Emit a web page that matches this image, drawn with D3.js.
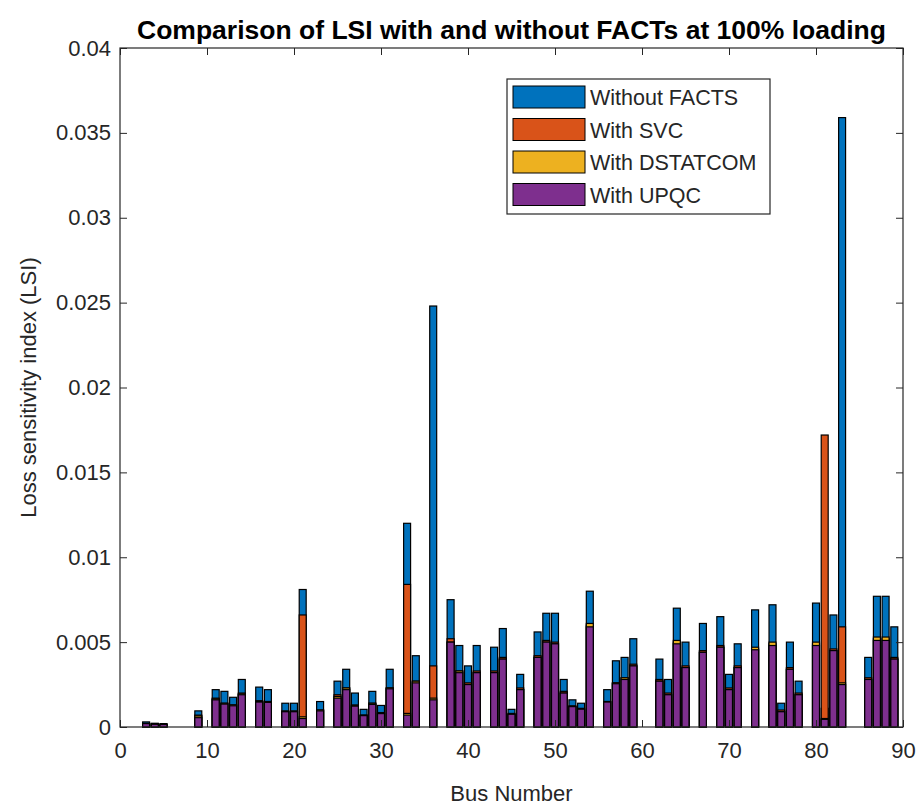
<!DOCTYPE html>
<html>
<head>
<meta charset="utf-8">
<script src="https://cdn.jsdelivr.net/npm/d3@7"></script>
<style>
  body { margin: 0; background: #fff; }
  text { font-family: "Liberation Sans", Arial, sans-serif; fill: #262626; }
</style>
</head>
<body>
<svg id="chart" width="919" height="805"></svg>
<script>
// bus numbers that carry a bar
const buses = [3,4,5,9,11,12,13,14,16,17,19,20,21,23,25,26,27,28,29,30,31,33,34,36,
  38,39,40,41,43,44,45,46,48,49,50,51,52,53,54,56,57,58,59,62,63,64,65,67,69,70,71,
  73,75,76,77,78,80,81,82,83,86,87,88,89];

const withoutFacts = [0.0003,0.00022,0.0002,0.00095,0.0022,0.0021,0.00175,0.0028,0.00235,0.0022,
  0.0014,0.0014,0.0081,0.0015,0.0027,0.0034,0.002,0.00104,0.0021,0.00127,0.0034,0.012,0.0042,0.0248,
  0.0075,0.0048,0.0036,0.0048,0.0047,0.0058,0.00104,0.0031,0.0056,0.0067,0.0067,0.0028,0.0016,0.0014,0.008,
  0.0022,0.0039,0.0041,0.0052,0.004,0.0028,0.007,0.005,0.0061,0.0065,0.0031,0.0049,
  0.0069,0.0072,0.0014,0.005,0.0027,0.0073,0.0011,0.0066,0.0359,0.0041,0.0077,0.0077,0.0059];

const withSVC = [0.00022,0.00018,0.00016,0.0007,0.0017,0.0014,0.0013,0.002,0.00155,0.0015,
  0.00095,0.00095,0.0066,0.001,0.0019,0.0023,0.0013,0.0007,0.0014,0.00085,0.0023,0.0084,0.0027,0.0036,
  0.0052,0.0033,0.0026,0.0033,0.0033,0.0041,0.0008,0.0023,0.0042,0.0051,0.005,0.0021,0.00125,0.0011,0.006,
  0.0015,0.0026,0.0029,0.0037,0.0028,0.002,0.005,0.0036,0.0045,0.0048,0.0023,0.0036,
  0.0046,0.0049,0.001,0.0035,0.002,0.0049,0.0172,0.0046,0.0059,0.0029,0.0052,0.0052,0.0041];

const withDSTATCOM = [0.0002,0.00017,0.00015,0.00065,0.00165,0.0014,0.0013,0.00195,0.0015,0.0015,
  0.0009,0.0009,0.0006,0.001,0.0018,0.0023,0.00125,0.0007,0.0014,0.0008,0.0023,0.0008,0.0027,0.0017,
  0.005,0.0033,0.0025,0.0032,0.0032,0.004,0.00075,0.0022,0.0041,0.005,0.0049,0.002,0.0012,0.00105,0.0061,
  0.0015,0.0026,0.0029,0.0036,0.0027,0.0019,0.0051,0.0035,0.0044,0.0047,0.0022,0.0035,
  0.0047,0.005,0.0009,0.0034,0.0019,0.005,0.0005,0.0045,0.0026,0.0028,0.0053,0.0053,0.004];

const withUPQC = [0.0002,0.00016,0.00015,0.00055,0.0016,0.00135,0.00125,0.0019,0.00147,0.00145,
  0.0009,0.0009,0.0005,0.00095,0.0017,0.0022,0.00123,0.00067,0.00133,0.00079,0.00225,0.0007,0.0026,0.0016,
  0.005,0.0032,0.0025,0.0032,0.0032,0.004,0.00075,0.0022,0.0041,0.005,0.0049,0.002,0.0012,0.00105,0.0059,
  0.00147,0.00255,0.0028,0.0036,0.0027,0.0019,0.0049,0.0035,0.0044,0.0047,0.0022,0.0035,
  0.00455,0.0048,0.0009,0.0034,0.0019,0.0048,0.00045,0.0045,0.0025,0.0028,0.0051,0.0051,0.004];

const seriesNames = ["Without FACTS", "With SVC", "With DSTATCOM", "With UPQC"];
const seriesColors = ["#0072BD", "#D95319", "#EDB120", "#7E2F8E"];
const seriesValues = [withoutFacts, withSVC, withDSTATCOM, withUPQC];

const xTicks = [0,10,20,30,40,50,60,70,80,90];
const yTicks = [0,0.005,0.01,0.015,0.02,0.025,0.03,0.035,0.04];
const yTickLabels = ["0","0.005","0.01","0.015","0.02","0.025","0.03","0.035","0.04"];

const width = 919, height = 805;
const margin = {top: 48, right: 16, bottom: 78, left: 120};
const axisColor = "#262626";

const svg = d3.select("#chart");

const x = d3.scaleLinear([0, 90], [margin.left, width - margin.right]);
const y = d3.scaleLinear([0, 0.04], [height - margin.bottom, margin.top]);
const barW = x(0.8) - x(0);

// bars: each series drawn over the previous one (MATLAB "hold on" style)
seriesValues.forEach((vals, s) => {
  svg.append("g")
    .selectAll("rect")
    .data(buses.map((b, i) => ({bus: b, v: vals[i]})))
    .join("rect")
      .attr("x", d => x(d.bus) - barW / 2)
      .attr("y", d => y(d.v))
      .attr("width", barW)
      .attr("height", d => y(0) - y(d.v))
      .attr("fill", seriesColors[s])
      .attr("stroke", "#000")
      .attr("stroke-width", 1.2);
});

// axes, ticks pointing inward
const tick = 7;
const styleAxis = g => {
  g.select(".domain").remove();
  g.selectAll(".tick line").attr("stroke", axisColor);
  g.selectAll(".tick text").attr("fill", axisColor)
    .style("font-family", '"Liberation Sans", Arial, sans-serif');
};

svg.append("g")
  .attr("transform", `translate(0,${y(0)})`)
  .call(d3.axisBottom(x).tickValues(xTicks).tickSize(-tick).tickPadding(15).tickFormat(d3.format("d")))
  .call(styleAxis)
  .selectAll(".tick text").style("font-size", "22px");

svg.append("g")
  .attr("transform", `translate(0,${y(0.04)})`)
  .call(d3.axisTop(x).tickValues(xTicks).tickSize(-tick).tickFormat(""))
  .call(styleAxis);

svg.append("g")
  .attr("transform", `translate(${x(0)},0)`)
  .call(d3.axisLeft(y).tickValues(yTicks).tickSize(-tick).tickPadding(9)
    .tickFormat((d, i) => yTickLabels[i]))
  .call(styleAxis)
  .selectAll(".tick text").style("font-size", "22px");

svg.append("g")
  .attr("transform", `translate(${x(90)},0)`)
  .call(d3.axisRight(y).tickValues(yTicks).tickSize(-tick).tickFormat(""))
  .call(styleAxis);

svg.append("rect")
  .attr("x", x(0)).attr("y", y(0.04))
  .attr("width", x(90) - x(0)).attr("height", y(0) - y(0.04))
  .attr("fill", "none").attr("stroke", axisColor).attr("stroke-width", 1.2);

// labels
svg.append("text")
  .attr("x", (x(0) + x(90)) / 2).attr("y", 39)
  .attr("text-anchor", "middle")
  .style("font-size", "26.5px").style("font-weight", "bold").style("fill", "#000")
  .text("Comparison of LSI with and without FACTs at 100% loading");

svg.append("text")
  .attr("x", (x(0) + x(90)) / 2).attr("y", 801)
  .attr("text-anchor", "middle")
  .style("font-size", "22px")
  .text("Bus Number");

svg.append("text")
  .attr("transform", `translate(36,${(y(0) + y(0.04)) / 2}) rotate(-90)`)
  .attr("text-anchor", "middle")
  .style("font-size", "22px")
  .text("Loss sensitivity index (LSI)");

// legend
const lg = svg.append("g").attr("transform", "translate(507,79)");
lg.append("rect")
  .attr("width", 263).attr("height", 135)
  .attr("fill", "#fff").attr("stroke", axisColor).attr("stroke-width", 1.2);
seriesNames.forEach((name, i) => {
  const row = lg.append("g").attr("transform", `translate(0,${18 + i * 32.5})`);
  row.append("rect")
    .attr("x", 6).attr("y", -11).attr("width", 72).attr("height", 22)
    .attr("fill", seriesColors[i]).attr("stroke", "#000").attr("stroke-width", 1);
  row.append("text")
    .attr("x", 83).attr("y", 8)
    .style("font-size", "21.5px")
    .text(name);
});
</script>
</body>
</html>
